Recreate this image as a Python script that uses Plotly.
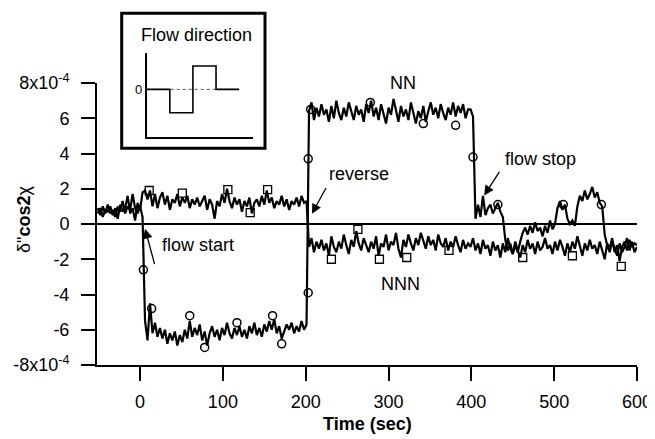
import numpy as np
import plotly.graph_objects as go

# ---------------- data ----------------
time_start, time_step = -51, 3
time = np.arange(time_start, 601, time_step)

# NNN trace (values in units of 1e-4)
nnn_values = [
    0.6, 0.9, 0.4, 0.8, 0.7, 1.0, 0.5, 0.9, 0.3, 1.1,      # -51..-24
    0.7, 0.9, 1.6, 0.6, 0.9, 0.2, 1.2, 0.8, 1.8, 1.9,      # -21..6
    1.4, 1.9, 1.0, 1.7, 0.9, 1.5, 1.8, 1.1, 1.6, 0.8,      # 9..36
    1.4, 1.2, 1.7, 1.0, 1.5, 1.2, 1.6, 0.9, 1.4, 1.1,      # 39..66
    1.5, 1.0, 1.3, 1.6, 0.8, 1.4, 1.1, 0.3, 1.3, 1.0,      # 69..96
    1.7, 1.2, 2.0, 1.3, 0.9, 1.5, 1.1, 1.4, 0.7, 1.3,      # 99..126
    1.0, 1.5, 0.6, 1.2, 1.4, 1.0, 1.6, 1.1, 1.9, 1.2,      # 129..156
    1.5, 0.9, 1.3, 1.1, 1.6, 1.0, 1.4, 0.8, 1.3, 1.1,      # 159..186
    1.5, 1.0, 1.6, 1.2, 1.3, -1.3, -0.8, -1.6, -1.0, -1.4, # 189..216
    -0.9, -1.5, -1.1, -1.8, -0.7, -1.3, -1.6, -1.0, -1.4, -0.6,  # 219..246
    -1.2, -1.7, -0.9, -1.3, -0.4, -1.1, -1.5, -0.8, -1.2, -1.6,  # 249..276
    -1.0, -1.4, -0.7, -1.8, -1.1, -1.3, -0.6, -1.5, -1.0, -1.2,  # 279..306
    -0.5, -1.4, -1.9, -0.9, -1.3, -0.6, -1.1, -1.5, -0.8, -1.2,  # 309..336
    -0.5, -1.0, -1.4, -0.7, -1.2, -0.9, -1.5, -0.6, -1.1, -1.3,  # 339..366
    -0.8, -1.5, -1.0, -1.3, -0.7, -1.2, -1.6, -0.9, -1.4, -1.1,  # 369..396
    -1.3, -0.8, -1.5, -1.1, -1.7, -0.9, -1.4, -1.2, -1.8, -1.0,  # 399..426
    -1.5, -1.2, -1.9, -1.1, -1.6, -0.8, -1.4, -1.7, -1.0, -1.5,  # 429..456
    -1.9, -1.2, -1.6, -0.9, -1.4, -1.1, -1.7, -1.0, -1.5, -1.3,  # 459..486
    -0.8, -1.4, -1.2, -1.7, -1.0, -1.5, -0.9, -1.3, -1.8, -1.1,  # 489..516
    -1.6, -1.0, -1.4, -0.7, -1.3, -1.8, -1.1, -1.5, -0.9, -1.4,  # 519..546
    -1.2, -1.7, -1.0, -1.5, -2.0, -1.1, -1.4, -0.8, -1.6, -1.2,  # 549..576
    -2.1, -1.3, -1.0, -1.5, -0.9, -1.3, -1.1, -1.2,              # 579..600
]

# NN trace (values in units of 1e-4)
nn_values = [
    0.9, 0.5, 1.0, 0.6, 1.1, 0.6, 0.8, 0.4, 1.0, 0.7,      # -51..-24
    1.3, 0.6, 1.0, 0.8, 1.7, 0.9, 0.6, 1.0, 0.4, -5.5,     # -21..6
    -6.6, -4.5, -6.2, -5.6, -6.4, -5.9, -6.5, -6.0, -6.8, -6.2,  # 9..36
    -6.6, -6.1, -6.9, -6.3, -6.7, -6.0, -6.5, -5.5, -6.4, -5.9,  # 39..66
    -6.3, -5.7, -6.6, -6.1, -6.9, -6.2, -5.8, -6.4, -6.0, -6.6,  # 69..96
    -5.9, -6.3, -5.6, -6.2, -6.5, -5.9, -6.3, -5.8, -6.4, -6.0,  # 99..126
    -6.5, -5.8, -6.2, -5.6, -6.3, -5.9, -6.4, -5.7, -6.1, -5.5,  # 129..156
    -6.0, -5.4, -6.2, -5.8, -6.5, -6.1, -5.7, -6.0, -5.6, -6.2,  # 159..186
    -5.8, -6.1, -5.5, -6.0, -5.7, 6.4, 6.9, 5.9, 6.6, 6.1,       # 189..216
    6.8, 6.2, 6.5, 5.8, 6.7, 6.0, 7.0, 6.3, 5.9, 6.6,            # 219..246
    6.1, 6.9, 6.4, 5.9, 6.7, 6.2, 6.5, 5.8, 6.8, 6.3,            # 249..276
    7.0, 6.1, 6.6, 5.9, 6.8, 6.3, 5.7, 6.6, 6.2, 7.1,            # 279..306
    6.4, 5.8, 6.7, 6.1, 6.5, 5.9, 6.9, 6.2, 5.7, 6.4,            # 309..336
    6.0, 6.7, 5.8, 6.4, 6.9, 6.2, 6.6, 6.0, 6.8, 6.3,            # 339..366
    5.9, 6.6, 6.2, 6.9, 6.1, 6.7, 6.3, 6.8, 6.0, 6.5,            # 369..396
    6.5, 6.1, 0.3, 1.1, 0.4, 1.6, 0.5, 0.9, 1.1, 0.6,            # 399..426
    0.9, 1.2, 0.7, 0.4, -0.9, -1.5, -1.1, -1.7, -1.2, -1.6,      # 429..456
    -1.0, -0.5, -0.2, -0.6, -0.1, -0.5, 0.1, -0.4, -0.2, -0.7,   # 459..486
    -0.1, -0.5, 0.2, -0.3, 0.0, 0.9, 1.3, 0.8, 1.1, 0.3,         # 489..516
    0.0, 0.2, -0.1, 1.0, 1.6, 1.3, 1.9, 1.4, 1.7, 2.1,           # 519..546
    1.5, 1.8, 1.2, 1.0, -0.6, -1.2, -1.6, -1.0, -1.4, -1.8,      # 549..576
    -1.1, -1.6, -1.3, -0.8, -1.5, -1.0, -1.6, -1.3,              # 579..600
]

# sparse symbols
nn_circle_time = [4, 14, 60, 78, 117, 160, 171, 203, 203, 206, 278, 342, 381, 402, 432, 511, 557]
nn_circle_vals = [-2.6, -4.8, -5.2, -7.0, -5.6, -5.2, -6.8, -3.9, 3.7, 6.5, 6.9, 5.7, 5.6, 3.8, 1.1, 1.1, 1.1]
nnn_square_time = [11, 51, 106, 133, 154, 231, 263, 289, 322, 373, 462, 522, 581]
nnn_square_vals = [1.9, 1.75, 1.95, 0.65, 1.95, -2.0, -0.3, -2.0, -1.9, -1.5, -1.9, -1.8, -2.4]

# inset schematic: flow direction
flow_step = [0, 1, 2, 3, 4]
flow_dir = [0, -1, 1, 0, 0]

y_ticks = [-8, -6, -4, -2, 0, 2, 4, 6, 8]
y_tick_text = ["-8x10<sup>-4</sup>", "-6", "-4", "-2", "0", "2", "4", "6", "8x10<sup>-4</sup>"]
x_ticks = [0, 100, 200, 300, 400, 500, 600]

# ---------------- figure ----------------
FONT = "Liberation Sans, Arial, sans-serif"
OFF = 8                       # page body margin of the html page
L, R, T, B = 97, 637, 10, 365  # plot-area edges in reference pixels
W, H = 655, 439


def px(x):
    return (x - L) / (R - L)


def py(y):
    return (B - y) / (B - T)


fig = go.Figure()
line_style = dict(color="black", width=2.2)
fig.add_trace(go.Scatter(x=time, y=nnn_values, mode="lines", line=line_style, showlegend=False))
fig.add_trace(go.Scatter(x=time, y=nn_values, mode="lines", line=line_style, showlegend=False))
fig.add_trace(go.Scatter(x=nn_circle_time, y=nn_circle_vals, mode="markers", showlegend=False,
                         marker=dict(symbol="circle-open", size=8, color="black", line=dict(width=1.5))))
fig.add_trace(go.Scatter(x=nnn_square_time, y=nnn_square_vals, mode="markers", showlegend=False,
                         marker=dict(symbol="square-open", size=8, color="black", line=dict(width=1.3))))

# inset
fig.add_trace(go.Scatter(x=[0, 4], y=[0, 0], xaxis="x2", yaxis="y2", mode="lines", showlegend=False,
                         line=dict(color="#555", width=1, dash="dot")))
fig.add_trace(go.Scatter(x=flow_step, y=flow_dir, xaxis="x2", yaxis="y2", mode="lines", showlegend=False,
                         line=dict(color="black", width=1.6, shape="hv")))

axis_common = dict(showline=True, linecolor="black", linewidth=2, ticks="outside", ticklen=14,
                   tickwidth=2, tickcolor="black", showgrid=False, mirror=False,
                   tickfont=dict(family=FONT, size=18, color="black"))

fig.update_layout(
    width=W, height=H,
    margin=dict(l=L - OFF, r=W - (R - OFF), t=T - OFF, b=H - (B - OFF), autoexpand=False),
    paper_bgcolor="white", plot_bgcolor="white",
    font=dict(family=FONT, size=18, color="black"),
    xaxis=dict(range=[-52, 600], tickvals=x_ticks, zeroline=False, ticklabelstandoff=5, **axis_common),
    yaxis=dict(range=[-8, 8], domain=[0, py(83)], tickvals=y_ticks, ticktext=y_tick_text,
               zeroline=True, zerolinecolor="black", zerolinewidth=1.6, ticklabelstandoff=8, **axis_common),
    xaxis2=dict(domain=[px(146.7), px(253)], range=[0, 4.6], anchor="y2", showline=True, linecolor="black",
                linewidth=1.5, ticks="", showticklabels=False, showgrid=False, zeroline=False),
    yaxis2=dict(domain=[py(136.7), py(53)], range=[-2.03, 1.56], anchor="x2", showline=True, linecolor="black",
                linewidth=1.5, ticks="", tickvals=[0], ticktext=["0"], ticklabelstandoff=0,
                tickfont=dict(family=FONT, size=13, color="black"), showgrid=False, zeroline=False),
    showlegend=False,
)

# inset frame
fig.add_shape(type="rect", xref="paper", yref="paper", x0=px(121.7), x1=px(265), y0=py(148.3), y1=py(13.3),
              line=dict(color="black", width=3), fillcolor="rgba(0,0,0,0)")


def paper_text(x, y, text, **kw):
    fig.add_annotation(xref="paper", yref="paper", x=px(x), y=py(y), text=text, showarrow=False,
                       xanchor="center", yanchor="middle", font=dict(size=18), **kw)


def label(t, v, text):
    fig.add_annotation(x=t, y=v, xref="x", yref="y", text=text, showarrow=False,
                       xanchor="center", yanchor="middle", font=dict(size=18))


def arrow(tip_t, tip_v, tail_t, tail_v):
    fig.add_annotation(x=tip_t, y=tip_v, ax=tail_t, ay=tail_v, xref="x", yref="y", axref="x", ayref="y",
                       text="", showarrow=True, arrowhead=2, arrowsize=1.5, arrowwidth=1.3, arrowcolor="black")


paper_text(196, 35, "Flow direction")

label(317, 8.0, "NN")
label(314, -3.4, "NNN")
label(70, -1.2, "flow start")
arrow(6, -0.27, 18, -2.36)
label(264, 2.84, "reverse")
arrow(207.5, 0.58, 225.5, 2.13)
label(483, 3.7, "flow stop")
arrow(415.5, 1.62, 435, 3.04)

# axis titles
paper_text(367, 424, "<b>Time (sec)</b>")
paper_text(24, 220, "δ\"<b>cos2</b>χ", textangle=-90)

fig.write_html("out.html")
